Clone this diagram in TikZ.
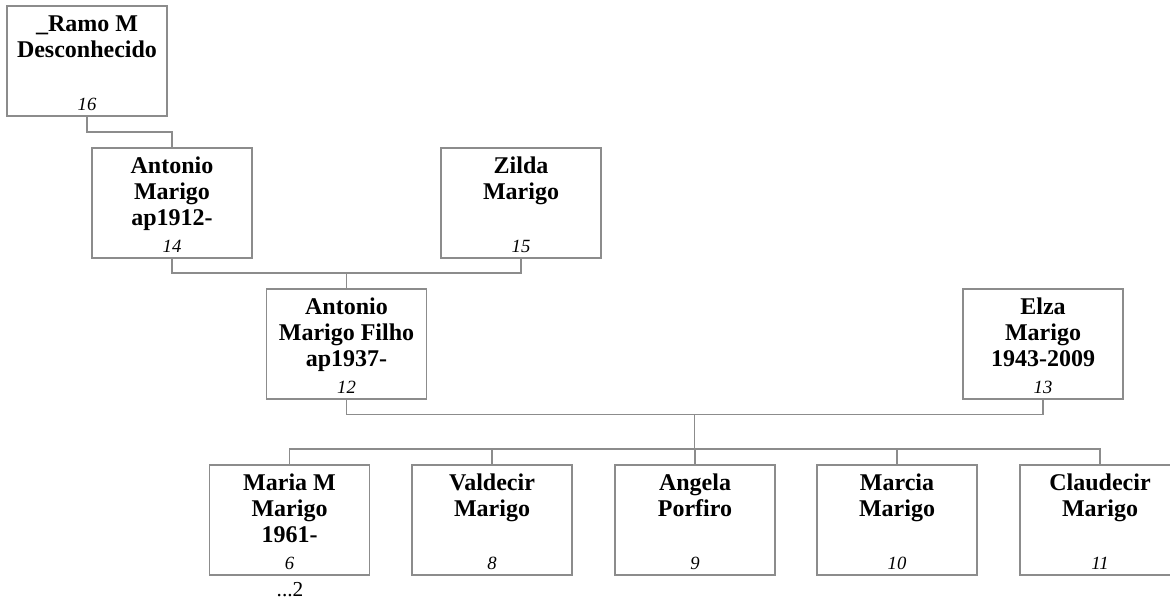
\documentclass[tikz,border=0pt]{standalone}
\usepackage{fontspec}
\setmainfont{Liberation Serif}
\definecolor{lc}{RGB}{140,140,140}
\tikzset{
  box/.style={draw=lc, line width=1pt, minimum width=120pt, minimum height=82.5pt, inner sep=0pt},
  nm/.style={font=\fontsize{18}{19.5}\selectfont\bfseries, anchor=base, inner sep=0pt},
  num/.style={font=\fontsize{14}{16}\selectfont\itshape, anchor=base, inner sep=0pt},
  note/.style={font=\fontsize{16}{18}\selectfont, anchor=base, inner sep=0pt},
  conn/.style={draw=lc, line width=1pt},
}
\begin{document}
\begin{tikzpicture}[x=0.75pt,y=-0.75pt]
\useasboundingbox (0,0) rectangle (1170,604);
% boxes
\node[box] (b16) at (87,61) {};
\node[box] (b14) at (172,203) {};
\node[box] (b15) at (521,203) {};
\node[box] (b12) at (346.5,344) {};
\node[box] (b13) at (1043,344) {};
\node[box] (c6) at (289.5,520) {};
\node[box] (c8) at (492,520) {};
\node[box] (c9) at (695,520) {};
\node[box] (c10) at (897,520) {};
\node[box] (c11) at (1100,520) {};
% texts box 16
\node[nm] (t16a) at (87,31.5) {\_Ramo M};
\node[nm] (t16b) at (87,57.5) {Desconhecido};
\node[num] (n16) at (87,110) {16};
% box 14
\node[nm] (t14a) at (172,173.5) {Antonio};
\node[nm] (t14b) at (172,199.5) {Marigo};
\node[nm] (t14c) at (172,225.5) {ap1912-};
\node[num] (n14) at (172,252) {14};
% box 15
\node[nm] (t15a) at (521,173.5) {Zilda};
\node[nm] (t15b) at (521,199.5) {Marigo};
\node[num] (n15) at (521,252) {15};
% box 12
\node[nm] (t12a) at (346.5,314.5) {Antonio};
\node[nm] (t12b) at (346.5,340.5) {Marigo Filho};
\node[nm] (t12c) at (346.5,366.5) {ap1937-};
\node[num] (n12) at (346.5,393) {12};
% box 13
\node[nm] (t13a) at (1043,314.5) {Elza};
\node[nm] (t13b) at (1043,340.5) {Marigo};
\node[nm] (t13c) at (1043,366.5) {1943-2009};
\node[num] (n13) at (1043,393) {13};
% children
\node[nm] (t6a) at (289.5,490.5) {Maria M};
\node[nm] (t6b) at (289.5,516.5) {Marigo};
\node[nm] (t6c) at (289.5,542.5) {1961-};
\node[num] (n6) at (289.5,569) {6};
\node[note] (m6) at (290,596) {...2};
\node[nm] (t8a) at (492,490.5) {Valdecir};
\node[nm] (t8b) at (492,516.5) {Marigo};
\node[num] (n8) at (492,569) {8};
\node[nm] (t9a) at (695,490.5) {Angela};
\node[nm] (t9b) at (695,516.5) {Porfiro};
\node[num] (n9) at (695,569) {9};
\node[nm] (t10a) at (897,490.5) {Marcia};
\node[nm] (t10b) at (897,516.5) {Marigo};
\node[num] (n10) at (897,569) {10};
\node[nm] (t11a) at (1100,490.5) {Claudecir};
\node[nm] (t11b) at (1100,516.5) {Marigo};
\node[num] (n11) at (1100,569) {11};
% connector rows
\coordinate (r1) at (0,132);
\coordinate (r2) at (0,273);
\coordinate (r3) at (0,414.5);
\coordinate (r4) at (0,449);
\coordinate (mid) at (694.75,414.5);
\draw[conn] (b16.south) -- (b16.south |- r1) -| (b14.north);
\draw[conn] (b14.south) -- (b14.south |- r2) -| (b15.south);
\draw[conn] (b12.north) -- (b12.north |- r2);
\draw[conn] (b12.south) -- (b12.south |- r3) -| (b13.south);
\draw[conn] (mid) -- (mid |- r4);
\draw[conn] (c6.north) -- (c6.north |- r4) -| (c11.north);
\foreach \c in {c8,c9,c10} \draw[conn] (\c.north) -- (\c.north |- r4);
\end{tikzpicture}
\end{document}
